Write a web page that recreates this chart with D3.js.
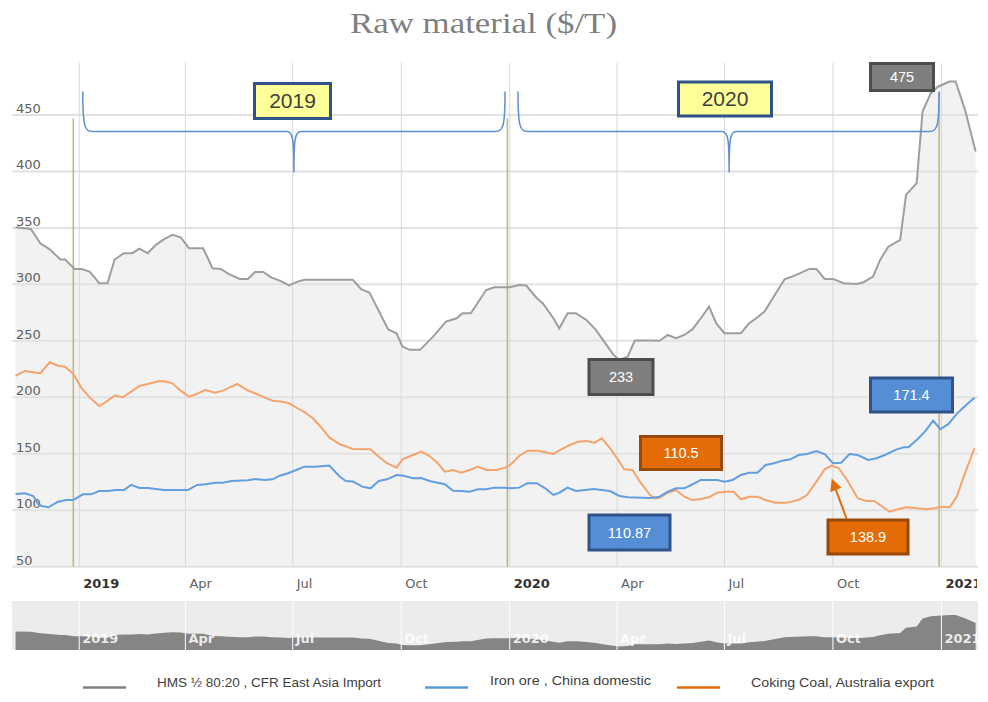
<!DOCTYPE html>
<html>
<head>
<meta charset="utf-8">
<script src="https://cdn.jsdelivr.net/npm/d3@7/dist/d3.min.js"></script>
<style>
  body { margin: 0; background: #fff; }
  svg { display: block; }
</style>
</head>
<body>
<div id="chart"></div>
<script>
// weekly prices, $/T
var hmsData = [
  ["2018-11-08",350.6],["2018-11-21",349],["2018-11-29",336.4],["2018-12-07",331],["2018-12-16",322],["2018-12-20",322],
  ["2018-12-28",313.7],["2019-01-03",313.7],["2019-01-10",311],["2019-01-18",301],["2019-01-25",301],["2019-01-31",322],
  ["2019-02-08",327.6],["2019-02-15",327.6],["2019-02-21",331.7],["2019-02-28",327.6],["2019-03-07",335],["2019-03-14",340],
  ["2019-03-21",343.8],["2019-03-28",341.7],["2019-04-04",332],["2019-04-16",332],["2019-04-24",314.3],["2019-05-01",313.7],
  ["2019-05-08",309],["2019-05-17",304.8],["2019-05-24",304.8],["2019-05-30",311],["2019-06-06",311],["2019-06-13",306],
  ["2019-06-20",303.3],["2019-06-28",299],["2019-07-05",302.4],["2019-07-11",304],["2019-08-01",304],["2019-08-21",304],
  ["2019-08-28",295.7],["2019-09-04",292.7],["2019-09-20",260],["2019-09-27",256.7],["2019-10-02",245],["2019-10-08",242],
  ["2019-10-17",242],["2019-10-28",253.7],["2019-11-08",267],["2019-11-17",270],["2019-11-22",274.4],["2019-11-29",274.4],
  ["2019-12-12",295],["2019-12-19",297.5],["2020-01-01",297.5],["2020-01-09",299.5],["2020-01-15",299],["2020-01-24",287.7],
  ["2020-01-29",283.3],["2020-02-07",270],["2020-02-12",261],["2020-02-19",274.4],["2020-02-26",274.4],["2020-03-06",268.5],
  ["2020-03-14",259.7],["2020-03-20",250.8],["2020-03-29",237.5],["2020-04-03",233],["2020-04-10",236],["2020-04-16",250.2],
  ["2020-04-29",250.2],["2020-05-07",250],["2020-05-14",255.2],["2020-05-21",252.3],["2020-05-28",255.2],["2020-06-04",260.3],
  ["2020-06-11",270],["2020-06-18",280.3],["2020-06-24",265.6],["2020-07-01",256.7],["2020-07-15",256.7],["2020-07-22",265.6],
  ["2020-07-28",270],["2020-08-04",276],["2020-08-21",304.5],["2020-08-31",308.4],["2020-09-11",313.7],["2020-09-17",313.7],
  ["2020-09-24",304.8],["2020-10-01",304.8],["2020-10-10",301],["2020-10-21",300.4],["2020-10-27",301.9],["2020-11-04",306.9],
  ["2020-11-10",321.7],["2020-11-17",333.4],["2020-11-27",339.4],["2020-12-02",379.2],["2020-12-11",389.6],["2020-12-16",453],
  ["2020-12-23",469.3],["2020-12-29",475],["2021-01-08",479.6],["2021-01-13",479.6],["2021-01-21",454.5],["2021-01-30",417.6]
];

var ironData = [
  ["2018-11-08",114.4],["2018-11-16",115],["2018-11-23",112.6],["2018-11-27",105.5],["2018-11-30",103.8],["2018-12-06",102.6],
  ["2018-12-14",107.6],["2018-12-21",109],["2018-12-27",109],["2019-01-04",114.1],["2019-01-11",114.1],["2019-01-18",117],
  ["2019-01-25",117],["2019-02-01",117.9],["2019-02-08",117.9],["2019-02-14",122.4],["2019-02-21",119.7],["2019-02-28",119.7],
  ["2019-03-14",117.9],["2019-04-03",117.9],["2019-04-11",122.4],["2019-04-18",123],["2019-04-27",124.4],["2019-05-03",124.4],
  ["2019-05-10",125.9],["2019-05-24",126.5],["2019-05-30",127.7],["2019-06-07",126.8],["2019-06-14",127.4],["2019-06-20",130.6],
  ["2019-06-27",132.7],["2019-07-04",135.6],["2019-07-11",138.6],["2019-07-20",138.6],["2019-08-01",139.5],["2019-08-10",129.7],
  ["2019-08-15",125.9],["2019-08-21",125.5],["2019-08-29",120.9],["2019-09-05",119.4],["2019-09-12",125.9],["2019-09-19",127.4],
  ["2019-09-27",131.2],["2019-10-02",130.7],["2019-10-11",128.3],["2019-10-18",128.5],["2019-10-25",125.9],["2019-11-07",123],
  ["2019-11-14",117.3],["2019-11-21",117],["2019-11-28",116.4],["2019-12-05",118.5],["2019-12-12",118.5],["2019-12-19",120],
  ["2019-12-28",120],["2020-01-02",119.4],["2020-01-09",120],["2020-01-16",123.9],["2020-01-24",123.9],["2020-01-31",119.4],
  ["2020-02-07",113.5],["2020-02-12",115.5],["2020-02-19",120],["2020-02-26",117],["2020-03-05",117.9],["2020-03-12",118.8],
  ["2020-03-19",117.9],["2020-03-26",117],["2020-04-03",112.6],["2020-04-10",111.4],["2020-04-29",110.9],["2020-05-07",112],
  ["2020-05-14",116.4],["2020-05-21",119.4],["2020-05-28",119.4],["2020-06-04",123],["2020-06-11",126.8],["2020-06-25",126.8],
  ["2020-07-01",125.3],["2020-07-08",126.8],["2020-07-15",131.2],["2020-07-22",133.2],["2020-07-29",133.2],["2020-08-05",140.1],
  ["2020-08-12",141.6],["2020-08-19",143.9],["2020-08-26",145.1],["2020-09-02",148.9],["2020-09-09",149.8],["2020-09-17",152.5],
  ["2020-09-24",149.8],["2020-10-01",141.6],["2020-10-08",142.1],["2020-10-15",149.8],["2020-10-22",148.9],["2020-10-31",144.5],
  ["2020-11-07",146],["2020-11-14",148.9],["2020-11-23",153.4],["2020-11-30",155.8],["2020-12-04",155.8],["2020-12-11",162.2],
  ["2020-12-18",169.6],["2020-12-25",179.3],["2020-12-31",171.7],["2021-01-07",176.4],["2021-01-14",185.3],["2021-01-21",192.3],
  ["2021-01-29",199.7]
];

var coalData = [
  ["2018-11-08",218.9],["2018-11-16",223.3],["2018-11-23",222.2],["2018-11-29",221.3],["2018-12-07",231],["2018-12-14",228],
  ["2018-12-20",227.1],["2018-12-27",220.7],["2019-01-03",208],["2019-01-10",199.7],["2019-01-18",192.3],["2019-01-24",196.2],
  ["2019-01-31",201.5],["2019-02-07",200],["2019-02-14",205],["2019-02-21",210],["2019-02-28",211.8],["2019-03-09",214.2],
  ["2019-03-14",214.2],["2019-03-21",212.4],["2019-03-28",205.9],["2019-04-04",200.6],["2019-04-10",202.7],["2019-04-18",206.5],
  ["2019-04-26",204.1],["2019-05-03",205.9],["2019-05-10",209.4],["2019-05-15",211.8],["2019-05-23",206.5],["2019-05-30",203.6],
  ["2019-06-07",200],["2019-06-14",197],["2019-06-21",196.2],["2019-06-28",194.7],["2019-07-05",190.3],["2019-07-11",186.8],
  ["2019-07-18",181.4],["2019-07-25",173.5],["2019-08-01",164.5],["2019-08-10",158.4],["2019-08-21",154.2],["2019-09-05",154],
  ["2019-09-12",147.4],["2019-09-19",141.6],["2019-09-27",137.7],["2019-10-02",145.1],["2019-10-11",148.9],["2019-10-18",151.9],
  ["2019-10-25",148],["2019-11-01",141.6],["2019-11-07",134.1],["2019-11-14",135.6],["2019-11-21",133.3],["2019-11-28",135.6],
  ["2019-12-05",138.6],["2019-12-12",135.6],["2019-12-21",135.6],["2019-12-28",137.7],["2020-01-02",140.7],["2020-01-09",148],
  ["2020-01-16",152.7],["2020-01-25",152.7],["2020-01-31",151.3],["2020-02-07",149.8],["2020-02-14",154],["2020-02-21",157.8],
  ["2020-02-28",160.7],["2020-03-06",161.3],["2020-03-13",159.8],["2020-03-19",163.7],["2020-03-26",154.9],["2020-04-02",144.5],
  ["2020-04-07",136.2],["2020-04-14",135.6],["2020-04-21",124.4],["2020-04-29",113.5],["2020-05-03",110.5],["2020-05-07",111.1],
  ["2020-05-14",115.5],["2020-05-21",117.9],["2020-05-28",112],["2020-06-04",109],["2020-06-11",110],["2020-06-18",111.5],
  ["2020-06-25",115.5],["2020-07-02",116.4],["2020-07-09",116.4],["2020-07-15",109.7],["2020-07-22",112],["2020-07-29",112],
  ["2020-08-05",109],["2020-08-13",106.7],["2020-08-22",106.7],["2020-08-27",107.6],["2020-09-03",109.7],["2020-09-09",113.5],
  ["2020-09-17",125.3],["2020-09-24",136.3],["2020-09-30",139.5],["2020-10-06",137.2],["2020-10-13",126.8],["2020-10-22",110.6],
  ["2020-10-29",108.2],["2020-11-05",108.2],["2020-11-12",103.1],["2020-11-18",98.7],["2020-11-25",100.8],["2020-12-02",102.6],
  ["2020-12-11",101.7],["2020-12-19",100.8],["2020-12-26",101.7],["2021-01-01",103.1],["2021-01-08",102.6],["2021-01-14",112],
  ["2021-01-21",132.8],["2021-01-29",154.9]
];

var quarterTicks = ["2019-01-01","2019-04-01","2019-07-01","2019-10-01","2020-01-01","2020-04-01","2020-07-01","2020-10-01","2021-01-01"];
var quarterLabels = ["2019","Apr","Jul","Oct","2020","Apr","Jul","Oct","2021"];
var yTicks = [50, 100, 150, 200, 250, 300, 350, 400, 450];
var seriesNames = ["HMS \u00bd 80:20 , CFR East Asia Import", "Iron ore , China domestic", "Coking Coal, Australia export"];
var yearMarks = ["2018-12-27", "2019-12-30", "2020-12-30"];

var width = 988, height = 702;
var parse = d3.timeParse("%Y-%m-%d");

var svg = d3.select("#chart").append("svg")
  .attr("width", width)
  .attr("height", height)
  .style("font-family", "'DejaVu Sans', Verdana, sans-serif");

var x = d3.scaleTime()
  .domain([parse("2018-11-05"), parse("2021-02-01")])
  .range([12, 978]);
var y = d3.scaleLinear().domain([50, 496]).range([566.7, 63]);
var yNav = d3.scaleLinear().domain([205, 590]).range([650, 601]);

var defs = svg.append("defs");
defs.append("clipPath").attr("id", "clip")
  .append("rect").attr("x", 0).attr("y", 0).attr("width", 977).attr("height", height);

// title
svg.append("text")
  .attr("x", 350).attr("y", 33)
  .attr("textLength", 267)
  .attr("lengthAdjust", "spacingAndGlyphs")
  .style("font-family", "'Liberation Serif', 'Times New Roman', serif")
  .style("font-size", "29px")
  .attr("fill", "#7f7f7f")
  .text("Raw material ($/T)");

// area under the scrap series
var area = d3.area()
  .x(function(d) { return x(parse(d[0])); })
  .y0(y(50))
  .y1(function(d) { return y(d[1]); });
svg.append("path").datum(hmsData)
  .attr("d", area)
  .attr("fill", "#f2f2f2");

// grid
svg.append("g").selectAll("line")
  .data(yTicks).enter().append("line")
  .attr("x1", 12).attr("x2", 978)
  .attr("y1", function(d) { return y(d); })
  .attr("y2", function(d) { return y(d); })
  .attr("stroke", "#e2e2e2")
  .attr("stroke-width", 2);

svg.append("g").selectAll("line")
  .data(quarterTicks).enter().append("line")
  .attr("x1", function(d) { return x(parse(d)); })
  .attr("x2", function(d) { return x(parse(d)); })
  .attr("y1", 63).attr("y2", y(50))
  .attr("stroke", "#d8d8d8")
  .attr("stroke-width", 1);

// y labels
svg.append("g").selectAll("text")
  .data(yTicks).enter().append("text")
  .attr("x", 16)
  .attr("y", function(d) { return y(d) - 2; })
  .style("font-size", "13px")
  .attr("fill", "#606060")
  .text(function(d) { return d; });

// x labels
svg.append("g").attr("clip-path", "url(#clip)").selectAll("text")
  .data(quarterTicks).enter().append("text")
  .attr("x", function(d) { return x(parse(d)) + 4; })
  .attr("y", 588)
  .style("font-size", "13px")
  .style("font-weight", function(d, i) { return quarterLabels[i].length == 4 ? "bold" : "normal"; })
  .attr("fill", function(d, i) { return quarterLabels[i].length == 4 ? "#333" : "#606060"; })
  .text(function(d, i) { return quarterLabels[i]; });

// year marker lines
svg.append("g").selectAll("line")
  .data(yearMarks).enter().append("line")
  .attr("x1", function(d) { return x(parse(d)); })
  .attr("x2", function(d) { return x(parse(d)); })
  .attr("y1", function(d, i) { return i == 2 ? y(470.3) : y(446.9); })
  .attr("y2", y(50))
  .attr("stroke", "#c2b27e")
  .attr("stroke-width", 1.5);

// series lines
var line = d3.line()
  .x(function(d) { return x(parse(d[0])); })
  .y(function(d) { return y(d[1]); });

svg.append("path").datum(hmsData)
  .attr("d", line).attr("fill", "none")
  .attr("stroke", "#9e9e9e").attr("stroke-width", 2);
svg.append("path").datum(coalData)
  .attr("d", line).attr("fill", "none")
  .attr("stroke", "#f5a46c").attr("stroke-width", 2);
svg.append("path").datum(ironData)
  .attr("d", line).attr("fill", "none")
  .attr("stroke", "#629ee0").attr("stroke-width", 2);

// year braces
function bracePath(d0, dm, d1, vTop, vMid, vTip) {
  var x0 = x(parse(d0)), xm = x(parse(dm)), x1 = x(parse(d1));
  var yTop = y(vTop), yMid = y(vMid), yTip = y(vTip);
  return "M" + x0 + "," + yTop
    + " C" + x0 + "," + (yMid - 4) + " " + (x0 + 2) + "," + yMid + " " + (x0 + 10) + "," + yMid
    + " L" + (xm - 7) + "," + yMid
    + " C" + (xm - 1) + "," + yMid + " " + xm + "," + (yMid + 8) + " " + xm + "," + yTip
    + " C" + xm + "," + (yMid + 8) + " " + (xm + 1) + "," + yMid + " " + (xm + 7) + "," + yMid
    + " L" + (x1 - 10) + "," + yMid
    + " C" + (x1 - 2) + "," + yMid + " " + x1 + "," + (yMid - 4) + " " + x1 + "," + yTop;
}
svg.append("path")
  .attr("d", bracePath("2019-01-04", "2019-07-02", "2019-12-28", 470.7, 435.3, 399))
  .attr("fill", "none").attr("stroke", "#5b8fd0").attr("stroke-width", 1.5);
svg.append("path")
  .attr("d", bracePath("2020-01-08", "2020-07-05", "2020-12-30", 470.7, 435.3, 399))
  .attr("fill", "none").attr("stroke", "#5b8fd0").attr("stroke-width", 1.5);

// callout boxes
function callout(cx, cy, w, h, txt, fill, stroke, color, size) {
  var g = svg.append("g");
  g.append("rect")
    .attr("x", cx - w / 2 + 1.5).attr("y", cy - h / 2 + 1.5)
    .attr("width", w - 3).attr("height", h - 3)
    .attr("fill", fill).attr("stroke", stroke).attr("stroke-width", 3);
  g.append("text")
    .attr("x", cx).attr("y", cy)
    .attr("dy", "0.35em")
    .attr("text-anchor", "middle")
    .style("font-family", "'Liberation Sans', Arial, sans-serif")
    .style("font-size", size + "px")
    .attr("fill", color)
    .text(txt);
}
callout(292.5, 101, 79, 38, "2019", "#ffff99", "#2f5287", "#404040", 21);
callout(725, 99, 96, 37, "2020", "#ffff99", "#2f5287", "#404040", 21);
callout(902, 77, 66, 30, "475", "#7f7f7f", "#4d4d4d", "#fff", 14.5);
callout(621, 377, 67, 38, "233", "#7f7f7f", "#4d4d4d", "#fff", 14.5);
callout(681, 453, 84, 36, "110.5", "#e36c09", "#984807", "#fff", 14.5);
callout(629.5, 532.5, 84, 38, "110.87", "#558ed5", "#2f5287", "#fff", 14.5);
callout(911.5, 395, 85, 37, "171.4", "#558ed5", "#2f5287", "#fff", 14.5);
callout(868, 537, 83, 37, "138.9", "#e36c09", "#984807", "#fff", 14.5);

// arrow from the 138.9 box to the coal peak
var tipX = x(parse("2020-09-30")), tipY = y(139.5) + 13;
var ang = Math.atan2(tipY - 519, tipX - 846.7);
svg.append("line")
  .attr("x1", 846.7).attr("y1", 519)
  .attr("x2", tipX - Math.cos(ang) * 8).attr("y2", tipY - Math.sin(ang) * 8)
  .attr("stroke", "#e36c09").attr("stroke-width", 2);
svg.append("path")
  .attr("d", "M0,0 L-12,-6 L-12,6 Z")
  .attr("transform", "translate(" + tipX + "," + tipY + ") rotate(" + (ang * 180 / Math.PI) + ")")
  .attr("fill", "#e36c09");

// navigator
svg.append("rect")
  .attr("x", 12).attr("y", 601).attr("width", 966).attr("height", 49)
  .attr("fill", "#ececec");
var navArea = d3.area()
  .x(function(d) { return x(parse(d[0])); })
  .y0(650)
  .y1(function(d) { return yNav(d[1]); });
svg.append("path").datum(hmsData)
  .attr("d", navArea)
  .attr("fill", "#858585");
svg.append("g").selectAll("line")
  .data(quarterTicks).enter().append("line")
  .attr("x1", function(d) { return x(parse(d)); })
  .attr("x2", function(d) { return x(parse(d)); })
  .attr("y1", 601).attr("y2", 650)
  .attr("stroke", "#fff").attr("stroke-width", 1);
svg.append("g").attr("clip-path", "url(#clip)").selectAll("text")
  .data(quarterTicks).enter().append("text")
  .attr("x", function(d) { return x(parse(d)) + 3; })
  .attr("y", 643)
  .style("font-size", "13px")
  .style("font-weight", "bold")
  .attr("fill", "#ffffff")
  .attr("fill-opacity", 0.85)
  .text(function(d, i) { return quarterLabels[i]; });

// legend
var legendColors = ["#808080", "#5b9bd5", "#e36c09"];
var legendLineX = [83, 425, 677];
var legendTextX = [157, 490, 751];
var legendTextW = [224, 161, 183];
var legend = svg.append("g");
legend.selectAll("line")
  .data(seriesNames).enter().append("line")
  .attr("x1", function(d, i) { return legendLineX[i]; })
  .attr("x2", function(d, i) { return legendLineX[i] + 43; })
  .attr("y1", 687.5).attr("y2", 687.5)
  .attr("stroke", function(d, i) { return legendColors[i]; })
  .attr("stroke-width", 2.5);
legend.selectAll("text")
  .data(seriesNames).enter().append("text")
  .attr("x", function(d, i) { return legendTextX[i]; })
  .attr("y", function(d, i) { return i == 1 ? 685 : 687; })
  .attr("textLength", function(d, i) { return legendTextW[i]; })
  .attr("lengthAdjust", "spacingAndGlyphs")
  .style("font-family", "'Liberation Sans Narrow', 'Liberation Sans', Arial, sans-serif")
  .style("font-size", "13.5px")
  .attr("fill", "#404040")
  .text(function(d) { return d; });
</script>
</body>
</html>
